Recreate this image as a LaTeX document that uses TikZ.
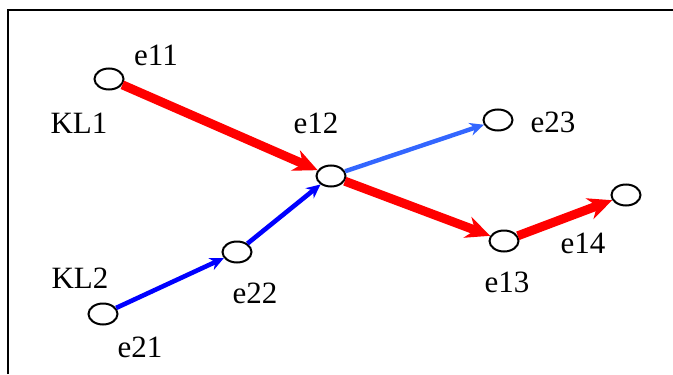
\documentclass[tikz,border=0pt]{standalone}
\usepackage{fontspec}
\setmainfont{Liberation Serif}
\usetikzlibrary{arrows.meta, shapes.geometric}
\definecolor{chainred}{RGB}{255, 0, 0}
\definecolor{chainblue}{RGB}{0, 0, 255}
\definecolor{sideblue}{RGB}{51, 102, 255}

\begin{document}
\begin{tikzpicture}[x=0.5pt, y=-0.5pt, >=Stealth,
    event/.style={draw, ellipse, line width=1pt, minimum width=14.5pt, minimum height=10.5pt, inner sep=0pt},
    tag/.style={anchor=base, inner sep=0pt, font=\fontsize{15.5}{18}\selectfont},
    redlink/.style={-{Stealth[length=12pt, width=11pt]}, chainred, line width=4.5pt},
    bluelink/.style={-{Stealth[length=7pt, width=6.5pt]}, chainblue, line width=2.3pt},
    sidelink/.style={-{Stealth[length=7pt, width=6.5pt]}, sideblue, line width=2.2pt}]
    \useasboundingbox (0,0) rectangle (673,374);
    \draw[line width=1pt] (7.5,374) -- (7.5,10) -- (673,10);
    % events
    \node[event] (e11) at (109, 79) {};
    \node[event] (e12) at (331, 176) {};
    \node[event] (e13) at (504, 241) {};
    \node[event] (e14) at (626, 195) {};
    \node[event] (e21) at (103, 314) {};
    \node[event] (e22) at (237, 252) {};
    \node[event] (e23) at (498, 120) {};
    % labels
    \node[tag] (t11) at (156, 66) {e11};
    \node[tag] (t12) at (316, 133) {e12};
    \node[tag] (t13) at (507, 292) {e13};
    \node[tag] (t14) at (583, 253) {e14};
    \node[tag] (t21) at (140, 357) {e21};
    \node[tag] (t22) at (255, 303) {e22};
    \node[tag] (t23) at (553, 132) {e23};
    \node[tag] (kl1) at (79, 133) {KL1};
    \node[tag] (kl2) at (80, 288) {KL2};
    % chains
    \draw[redlink] (e11) -- (e12);
    \draw[redlink] (e12) -- (e13);
    \draw[redlink] (e13) -- (e14);
    \draw[bluelink] (e21) -- (e22);
    \draw[bluelink] (e22) -- (e12);
    \draw[sidelink] (e12) -- (e23);
\end{tikzpicture}
\end{document}
